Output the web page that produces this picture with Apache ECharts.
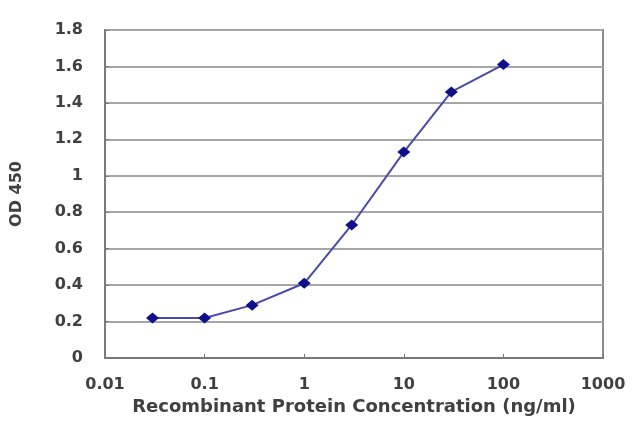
<!DOCTYPE html>
<html>
<head>
<meta charset="UTF-8">
<title></title>
<script src="https://cdn.jsdelivr.net/npm/echarts@6/dist/echarts.min.js"></script>
<style type="text/css">
	* {margin: 0; padding: 0;}
	body {background: #fff;}
</style>
</head>
<body>
<div id="chart" style="width:640px;height:427px"></div>
<script type="text/javascript">
// concentration (ng/ml) and OD 450
var concentrations = [0.03, 0.1, 0.3, 1, 3, 10, 30, 100];
var odValues = [0.22, 0.22, 0.29, 0.41, 0.73, 1.13, 1.46, 1.61];
var xTickLabels = ['0.01', '0.1', '1', '10', '100', '1000'];
var yTicks = [0, 0.2, 0.4, 0.6, 0.8, 1, 1.2, 1.4, 1.6, 1.8];

var chart = echarts.init(document.getElementById('chart'));

var points = [];
for (var i = 0; i < concentrations.length; i++) {
	points.push([concentrations[i], odValues[i]]);
}

var labelStyle = {
	color: '#404040',
	fontFamily: 'DejaVu Sans',
	fontWeight: 'bold',
	fontSize: 16
};

var option = {
	animation: false,
	grid: {
		left: 105,
		right: 37,
		top: 30,
		bottom: 69,
		show: true,
		borderColor: '#8c8c8c',
		borderWidth: 2
	},
	xAxis: {
		type: 'log',
		logBase: 10,
		min: 0.01,
		max: 1000,
		name: 'Recombinant Protein Concentration (ng/ml)',
		nameLocation: 'middle',
		nameGap: 39,
		nameTextStyle: {
			color: '#404040',
			fontFamily: 'DejaVu Sans',
			fontWeight: 'bold',
			fontSize: 18
		},
		axisLine: {lineStyle: {color: '#7a7a7a', width: 2}},
		axisTick: {inside: true, length: 4, lineStyle: {color: '#7a7a7a'}},
		axisLabel: {
			margin: 19,
			color: labelStyle.color,
			fontFamily: labelStyle.fontFamily,
			fontWeight: labelStyle.fontWeight,
			fontSize: labelStyle.fontSize,
			formatter: function (v) {
				var idx = Math.round(Math.log(v) / Math.LN10) + 2;
				return xTickLabels[idx];
			}
		},
		splitLine: {show: false}
	},
	yAxis: {
		type: 'value',
		min: yTicks[0],
		max: yTicks[yTicks.length - 1],
		interval: 0.2,
		name: 'OD 450',
		nameLocation: 'middle',
		nameGap: 80,
		nameTextStyle: {
			color: '#404040',
			fontFamily: 'DejaVu Sans',
			fontWeight: 'bold',
			fontSize: 16
		},
		axisLine: {show: true, lineStyle: {color: '#7a7a7a', width: 2}},
		axisTick: {show: true, inside: true, length: 4, lineStyle: {color: '#7a7a7a'}},
		axisLabel: {
			margin: 22,
			color: labelStyle.color,
			fontFamily: labelStyle.fontFamily,
			fontWeight: labelStyle.fontWeight,
			fontSize: labelStyle.fontSize,
			formatter: function (v) {
				return String(Math.round(v * 10) / 10);
			}
		},
		splitLine: {show: true, lineStyle: {color: '#a6a6a6', width: 2}}
	},
	series: [{
		type: 'line',
		data: points,
		symbol: 'diamond',
		symbolSize: [13, 11],
		lineStyle: {color: '#4a4aa8', width: 2},
		itemStyle: {color: '#10108c'}
	}]
};

chart.setOption(option);
</script>
</body>
</html>
